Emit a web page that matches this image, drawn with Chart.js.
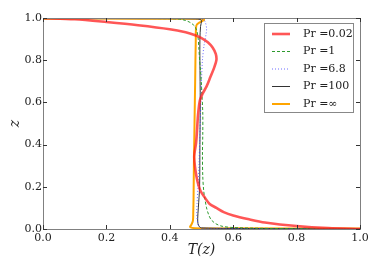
<!DOCTYPE html>
<html>
<head>
<meta charset="utf-8">
<script src="https://cdn.jsdelivr.net/npm/chart.js@4/dist/chart.umd.min.js"></script>
<style>
html,body{margin:0;padding:0;background:#fff;}
canvas{display:block;}
</style>
</head>
<body>
<canvas id="c" width="382" height="274"></canvas>
<script>
// ---- data (T on x, z on y) ----
const seriesLabels = ['Pr =0.02', 'Pr =1', 'Pr =6.8', 'Pr =100', 'Pr =\u221E'];
const xTickLabels = ['0.0', '0.2', '0.4', '0.6', '0.8', '1.0'];
const yTickLabels = ['0.0', '0.2', '0.4', '0.6', '0.8', '1.0'];

const pr002T = [0, 0.1, 0.2, 0.3, 0.4, 0.45, 0.48, 0.5, 0.52, 0.535, 0.545, 0.547, 0.54, 0.528, 0.516, 0.503, 0.495, 0.489, 0.486, 0.483, 0.478, 0.477, 0.479, 0.484, 0.49, 0.497, 0.51, 0.525, 0.547, 0.57, 0.6, 0.65, 0.7, 0.8, 0.9, 1.0];
const pr002Z = [1.0, 0.994, 0.981, 0.966, 0.947, 0.932, 0.918, 0.905, 0.885, 0.86, 0.83, 0.80, 0.765, 0.72, 0.676, 0.64, 0.61, 0.54, 0.47, 0.41, 0.36, 0.34, 0.30, 0.25, 0.21, 0.18, 0.15, 0.12, 0.10, 0.08, 0.064, 0.046, 0.031, 0.014, 0.004, 0];

const pr1T = [0, 0.2, 0.4, 0.43, 0.45, 0.465, 0.478, 0.485, 0.489, 0.492, 0.494, 0.497, 0.501, 0.504, 0.504, 0.503, 0.504, 0.507, 0.511, 0.516, 0.522, 0.53, 0.545, 0.565, 0.6, 0.7, 0.85, 1.0];
const pr1Z = [0.998, 0.998, 0.997, 0.995, 0.988, 0.978, 0.962, 0.94, 0.91, 0.85, 0.8, 0.75, 0.65, 0.55, 0.45, 0.35, 0.25, 0.18, 0.14, 0.1, 0.07, 0.045, 0.025, 0.013, 0.007, 0.003, 0.001, 0];

const pr68T = [0, 0.3, 0.49, 0.505, 0.512, 0.516, 0.514, 0.508, 0.503, 0.5, 0.498, 0.496, 0.494, 0.492, 0.489, 0.486, 0.485, 0.487, 0.491, 0.5, 0.7, 1.0];
const pr68Z = [0.998, 0.998, 0.997, 0.993, 0.98, 0.95, 0.92, 0.87, 0.8, 0.7, 0.6, 0.5, 0.4, 0.3, 0.2, 0.12, 0.07, 0.04, 0.015, 0.004, 0.002, 0.001];

const pr100T = [0, 0.3, 0.48, 0.497, 0.5, 0.497, 0.495, 0.495, 0.496, 0.495, 0.494, 0.49, 0.488, 0.489, 0.493, 0.5, 0.7, 1.0];
const pr100Z = [0.997, 0.997, 0.996, 0.993, 0.985, 0.96, 0.9, 0.8, 0.6, 0.4, 0.2, 0.1, 0.05, 0.025, 0.012, 0.005, 0.002, 0.001];

const prInfT = [0, 0.3, 0.49, 0.505, 0.508, 0.495, 0.484, 0.482, 0.48, 0.478, 0.476, 0.475, 0.474, 0.473, 0.468, 0.464, 0.48, 0.6, 1.0];
const prInfZ = [0.997, 0.997, 0.996, 0.995, 0.99, 0.98, 0.965, 0.9, 0.7, 0.5, 0.3, 0.15, 0.08, 0.04, 0.02, 0.01, 0.004, 0.003, 0.002];

function pts(T, Z) { return T.map((t, i) => ({x: t, y: Z[i]})); }

const serif = '"DejaVu Serif", serif';

const datasets = [
  {label: seriesLabels[0], data: pts(pr002T, pr002Z), borderColor: 'rgba(255,30,30,0.75)', borderWidth: 2.6, borderDash: []},
  {label: seriesLabels[1], data: pts(pr1T, pr1Z), borderColor: '#2e9a2e', borderWidth: 1, borderDash: [3, 2]},
  {label: seriesLabels[2], data: pts(pr68T, pr68Z), borderColor: 'rgba(60,60,255,0.75)', borderWidth: 1, borderDash: [1, 2]},
  {label: seriesLabels[3], data: pts(pr100T, pr100Z), borderColor: '#333333', borderWidth: 1, borderDash: []},
  {label: seriesLabels[4], data: pts(prInfT, prInfZ), borderColor: '#ffa500', borderWidth: 2, borderDash: []}
].map(d => Object.assign(d, {showLine: true, pointRadius: 0, tension: 0.3, fill: false}));

const framePlugin = {
  id: 'frame',
  afterDatasetsDraw(chart) {
    const {ctx, chartArea: a, scales: {x, y}} = chart;
    ctx.save();
    ctx.strokeStyle = '#808080';
    ctx.lineWidth = 1;
    ctx.strokeRect(Math.round(a.left) + 0.5, Math.round(a.top) + 0.5, Math.round(a.right - a.left), Math.round(a.bottom - a.top));
    ctx.strokeStyle = '#333';
    ctx.beginPath();
    x.ticks.forEach(t => {
      const px = Math.round(x.getPixelForValue(t.value)) + 0.5;
      ctx.moveTo(px, a.bottom); ctx.lineTo(px, a.bottom - 4);
      ctx.moveTo(px, a.top); ctx.lineTo(px, a.top + 4);
    });
    y.ticks.forEach(t => {
      const py = Math.round(y.getPixelForValue(t.value)) + 0.5;
      ctx.moveTo(a.left, py); ctx.lineTo(a.left + 4, py);
      ctx.moveTo(a.right, py); ctx.lineTo(a.right - 4, py);
    });
    ctx.stroke();

    // legend
    const bx = 264.5, by = 23.5, bw = 89, bh = 89;
    ctx.fillStyle = '#fff';
    ctx.fillRect(bx, by, bw, bh);
    ctx.strokeStyle = '#888';
    ctx.strokeRect(bx, by, bw, bh);
    chart.data.datasets.forEach((d, i) => {
      const ry = 34 + i * 17.5;
      ctx.save();
      ctx.strokeStyle = d.borderColor;
      ctx.lineWidth = d.borderWidth;
      ctx.setLineDash(d.borderDash || []);
      ctx.beginPath();
      ctx.moveTo(272, ry); ctx.lineTo(290, ry);
      ctx.stroke();
      ctx.restore();
      ctx.fillStyle = '#222';
      ctx.font = '11px ' + serif;
      ctx.textBaseline = 'middle';
      ctx.textAlign = 'left';
      ctx.fillText(d.label, 303, ry);
    });
    ctx.restore();
  }
};

new Chart(document.getElementById('c'), {
  type: 'scatter',
  data: {datasets},
  options: {
    responsive: false,
    animation: false,
    layout: {padding: {top: 18, right: 22, left: 0, bottom: 0}},
    plugins: {legend: {display: false}, tooltip: {enabled: false}},
    scales: {
      x: {
        type: 'linear', min: 0, max: 1,
        afterFit: s => { s.height = 45; },
        ticks: {stepSize: 0.2, autoSkip: false, maxRotation: 0, padding: 3, color: '#222',
          font: {family: serif, size: 11},
          callback: (v, i) => xTickLabels[i]},
        grid: {display: false, drawTicks: false},
        border: {display: false},
        title: {display: true, text: 'T(z)', color: '#222', font: {family: serif, size: 14, style: 'italic'}, padding: {top: 0, bottom: 15}}
      },
      y: {
        type: 'linear', min: 0, max: 1,
        afterFit: s => { s.width = 43; },
        ticks: {stepSize: 0.2, autoSkip: false, padding: 1, color: '#222',
          font: {family: serif, size: 11},
          callback: (v, i) => yTickLabels[i]},
        grid: {display: false, drawTicks: false},
        border: {display: false},
        title: {display: true, text: 'z', color: '#222', font: {family: serif, size: 14, style: 'italic'}, padding: {top: 7, bottom: 0}}
      }
    }
  },
  plugins: [framePlugin]
});
</script>
</body>
</html>
